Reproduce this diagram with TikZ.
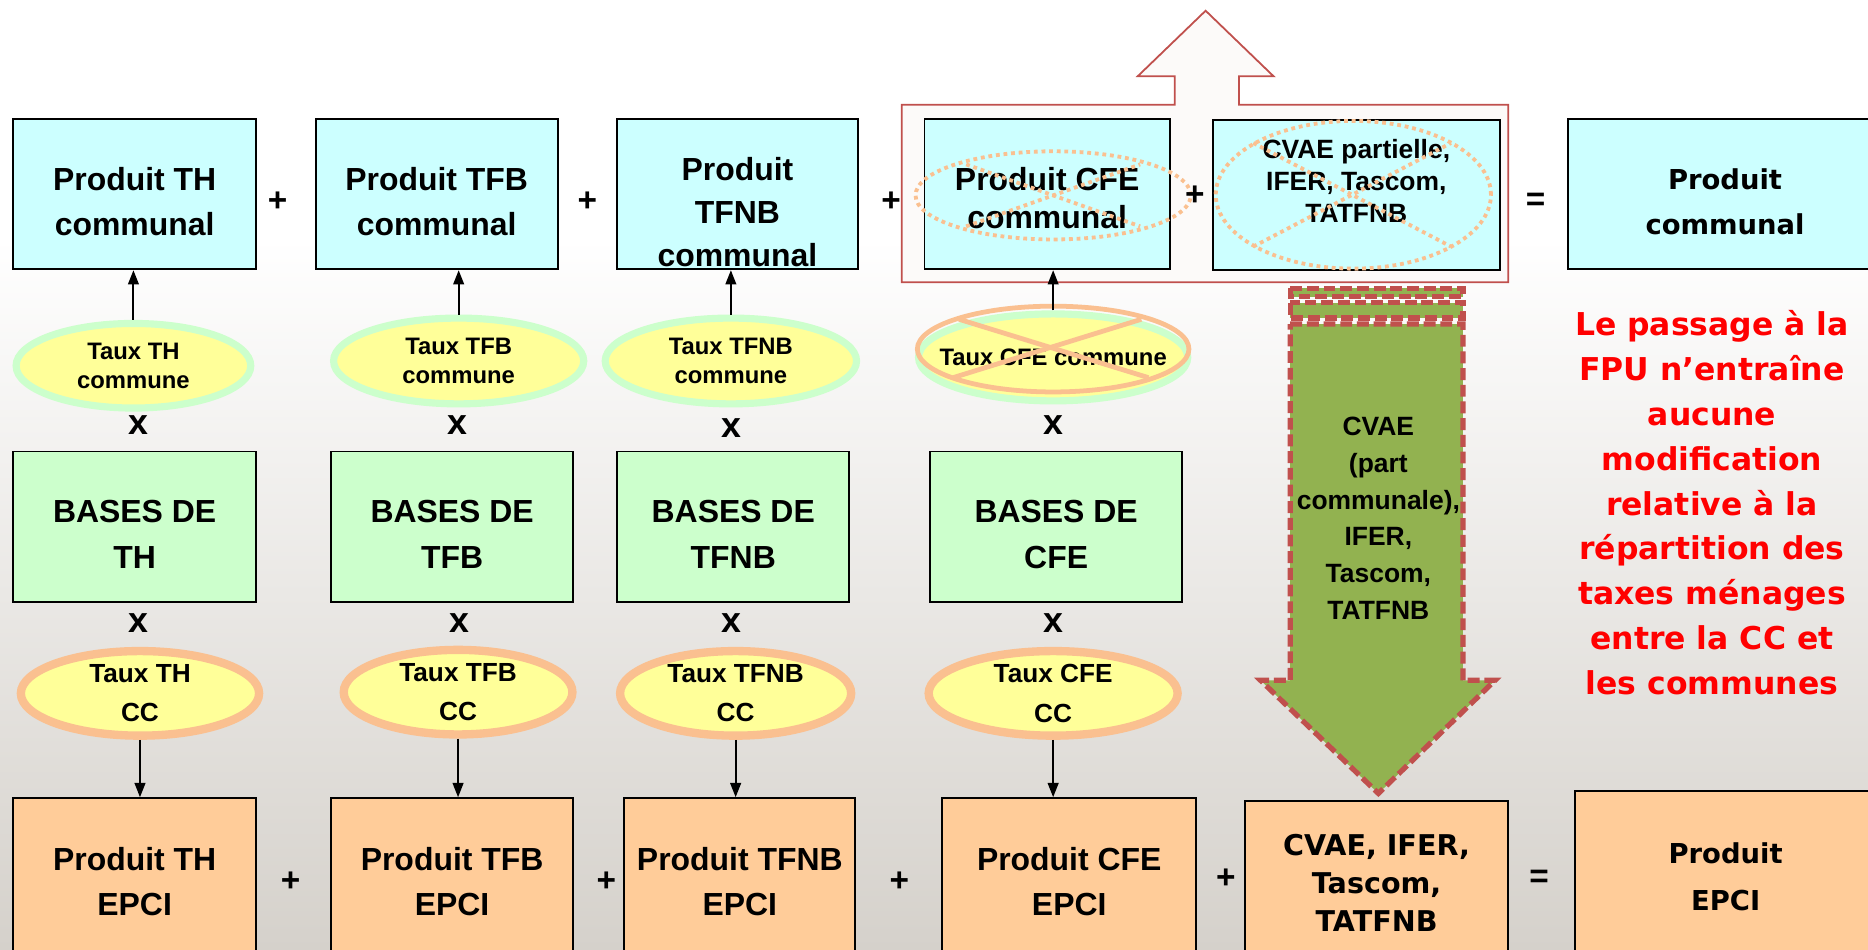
\documentclass[tikz,border=0pt]{standalone}
\usepackage{fontspec}
\setmainfont{Liberation Sans}
\newfontfamily\largefont{DejaVu Sans}
\usepackage{xcolor}
\usepackage{tikz}
\usetikzlibrary{positioning,calc,shapes.geometric,arrows.meta}

\definecolor{cyanbox}{RGB}{204,255,255}
\definecolor{vertbox}{RGB}{204,255,204}
\definecolor{orangebox}{RGB}{255,204,153}
\definecolor{jaune}{RGB}{255,255,153}
\definecolor{bordorange}{RGB}{250,192,144}
\definecolor{rougebord}{RGB}{192,80,77}
\definecolor{vertfleche}{RGB}{146,178,80}
\definecolor{fondgris}{RGB}{213,209,203}
\definecolor{fondclair}{RGB}{252,250,249}

\tikzset{
  boite/.style={draw=black, line width=0.8pt, minimum height=63pt, inner sep=0pt, align=center,
    font=\fontsize{13.4}{19}\selectfont\bfseries},
  bas/.style={text height=35pt, text depth=0pt},
  tauxcom/.style={ellipse, fill=jaune, draw=vertbox, line width=3pt, inner sep=0pt, align=center,
    font=\fontsize{10}{12}\selectfont\bfseries},
  tauxcc/.style={ellipse, fill=jaune, draw=bordorange, line width=3.5pt, inner sep=0pt, inner ysep=-1.5pt,
    align=center, font=\fontsize{11}{16.5}\selectfont\bfseries},
  signe/.style={font=\fontsize{14}{14}\selectfont\bfseries, inner sep=0pt},
  fleche/.style={line width=0.8pt, -{Triangle[length=6pt,width=4.5pt]}},
  barre/.style={bordorange, line width=1.6pt, dash pattern=on 1.6pt off 1.6pt},
  flechevte/.style={fill=vertfleche, draw=rougebord, line width=2.2pt, dash pattern=on 5pt off 2pt},
}

\begin{document}
\begin{tikzpicture}[x=0.5pt, y=-0.5pt]
  \useasboundingbox (0,0) rectangle (1568,797);
  % fond degrade
  \fill[white] (0,0) rectangle (1568,797);
  \shade[top color=white, bottom color=fondgris] (0,200) rectangle (1568,797);

  % cadre rouge avec la fleche vers le haut
  \draw[rougebord, line width=0.75pt, fill=fondclair] (757,88) -- (986,88) -- (986,64) -- (955,64)
    -- (1012,9) -- (1069,64) -- (1040,64) -- (1040,88) -- (1266,88) -- (1266,237) -- (757,237) -- cycle;

  % ligne des produits communaux
  \node[boite, bas, fill=cyanbox, minimum width=102pt] (prodTH) at (113,163) {Produit TH\\communal};
  \node[boite, bas, fill=cyanbox, minimum width=101.5pt] (prodTFB) at (366.5,163) {Produit TFB\\communal};
  \node[boite, fill=cyanbox, minimum width=101pt,
    label={[align=center, yshift=-7.5pt, font=\fontsize{13.4}{18}\selectfont\bfseries]center:{Produit\\TFNB\\communal}}]
    (prodTFNB) at (619,163) {};
  \node[boite, fill=cyanbox, minimum width=103pt, font=\fontsize{13.4}{16}\selectfont\bfseries,
    text height=28.8pt, text depth=0pt] (prodCFE) at (879,163) {Produit CFE\\communal};
  \node[boite, fill=cyanbox, minimum width=120.5pt,
    label={[align=center, yshift=5.75pt, font=\fontsize{11.1}{13.3}\selectfont\bfseries]center:{CVAE partielle,\\IFER, Tascom,\\TATFNB}}]
    (prodCVAE) at (1138.5,163.5) {};
  \node[boite, fill=cyanbox, minimum width=132pt, font=\largefont\fontsize{11.5}{19}\selectfont\bfseries,
    text height=34.2pt, text depth=0pt] (prodCom) at (1448,163) {Produit\\communal};

  % barres en pointilles
  \draw[barre] (884,164) ellipse [x radius=57.75pt, y radius=18.5pt];
  \draw[barre] (811,138) -- (957,190);
  \draw[barre] (811,190) -- (957,138);
  \draw[barre] (1136,163.5) ellipse [x radius=57.75pt, y radius=31pt];
  \draw[barre] (1052,120) -- (1218,207);
  \draw[barre] (1052,207) -- (1218,120);

  % taux communes
  \node[tauxcom, minimum width=98.5pt, minimum height=35.5pt] (tauxTHcom) at (112,307) {Taux TH\\commune};
  \node[tauxcom, minimum width=105pt, minimum height=36pt] (tauxTFBcom) at (385,303) {Taux TFB\\commune};
  \node[tauxcom, minimum width=105.5pt, minimum height=36pt] (tauxTFNBcom) at (613.5,303) {Taux TFNB\\commune};
  \node[tauxcom, minimum width=113pt, minimum height=36.5pt,
    label={[font=\fontsize{10}{12}\selectfont\bfseries]center:Taux CFE commune}] (tauxCFEcom) at (884,300) {};
  \draw[bordorange, line width=2pt] (884,293) ellipse [x radius=57pt, y radius=18pt];
  \draw[bordorange, line width=2pt] (805,268) -- (964,317);
  \draw[bordorange, line width=2pt] (800,317) -- (958,268);

  \draw[fleche] (tauxTHcom.north) -- (tauxTHcom.north |- prodTH.south);
  \draw[fleche] (tauxTFBcom.north) -- (tauxTFBcom.north |- prodTFB.south);
  \draw[fleche] (tauxTFNBcom.north) -- (tauxTFNBcom.north |- prodTFNB.south);
  \draw[fleche] (tauxCFEcom.north) -- (tauxCFEcom.north |- prodCFE.south);

  % bases
  \node[boite, bas, fill=vertbox, minimum width=102pt] (basesTH) at (113,442) {BASES DE\\TH};
  \node[boite, bas, fill=vertbox, minimum width=101.5pt] (basesTFB) at (379.5,442) {BASES DE\\TFB};
  \node[boite, bas, fill=vertbox, minimum width=97.5pt] (basesTFNB) at (615.5,442) {BASES DE\\TFNB};
  \node[boite, bas, fill=vertbox, minimum width=105.5pt] (basesCFE) at (886.5,442) {BASES DE\\CFE};

  \foreach \x/\y [count=\i] in {116/357, 384/357, 614/359, 884/357, 116/523, 386/523, 614/523, 884/523}
    \node[signe, font=\fontsize{15}{15}\selectfont\bfseries] (fois\i) at (\x,\y) {x};

  % taux CC
  \node[tauxcc, minimum width=100pt, minimum height=35.5pt] (tauxTHcc) at (117.5,582) {Taux TH\\CC};
  \node[tauxcc, minimum width=96pt, minimum height=35.5pt] (tauxTFBcc) at (384.5,581) {Taux TFB\\CC};
  \node[tauxcc, minimum width=97pt, minimum height=35.5pt] (tauxTFNBcc) at (617.5,582) {Taux TFNB\\CC};
  \node[tauxcc, minimum width=104.5pt, minimum height=35.5pt] (tauxCFEcc) at (884,582) {Taux CFE\\CC};

  % produits EPCI
  \node[boite, fill=orangebox, minimum width=102pt, minimum height=70pt] (prodTHepci) at (113,740) {Produit TH\\EPCI};
  \node[boite, fill=orangebox, minimum width=101.5pt, minimum height=70pt] (prodTFBepci) at (379.5,740) {Produit TFB\\EPCI};
  \node[boite, fill=orangebox, minimum width=97pt, minimum height=70pt] (prodTFNBepci) at (621,740) {Produit TFNB\\EPCI};
  \node[boite, fill=orangebox, minimum width=106.5pt, minimum height=70pt] (prodCFEepci) at (897.5,740) {Produit CFE\\EPCI};
  \node[boite, fill=orangebox, minimum width=110.5pt, minimum height=69pt, font=\largefont\fontsize{12}{16}\selectfont\bfseries]
    (prodCVAEepci) at (1155.5,741) {CVAE, IFER,\\Tascom,\\TATFNB};
  \node[boite, fill=orangebox, minimum width=126.5pt, minimum height=72pt, font=\largefont\fontsize{11.5}{19.5}\selectfont\bfseries]
    (prodEPCI) at (1448.5,736) {Produit\\EPCI};

  \draw[fleche] (tauxTHcc.south) -- (tauxTHcc.south |- prodTHepci.north);
  \draw[fleche] (tauxTFBcc.south) -- (tauxTFBcc.south |- prodTFBepci.north);
  \draw[fleche] (tauxTFNBcc.south) -- (tauxTFNBcc.south |- prodTFNBepci.north);
  \draw[fleche] (tauxCFEcc.south) -- (tauxCFEcc.south |- prodCFEepci.north);

  % signes
  \foreach \x/\y [count=\i] in {233/169, 493/169, 748/169, 1003/164, 244/740, 509/740, 755/740, 1029/738}
    \node[signe] (plus\i) at (\x,\y) {+};
  \node[signe] (egal1) at (1289,169) {=};
  \node[signe] (egal2) at (1292,738) {=};

  % grande fleche verte
  \draw[flechevte] (1083,242) rectangle (1228,249);
  \draw[flechevte] (1083,254) rectangle (1228,267);
  \draw[flechevte] (1083,272) -- (1228,272) -- (1228,571) -- (1255,571) -- (1157,666)
    -- (1058,571) -- (1083,571) -- cycle;
  \node[font=\fontsize{11.1}{15.5}\selectfont\bfseries, align=center] (cvaeFleche) at (1157,435)
    {CVAE\\(part\\communale),\\IFER,\\Tascom,\\TATFNB};

  % commentaire en rouge
  \node[font=\largefont\fontsize{13.2}{18.8}\selectfont\bfseries, text=red, align=center] (avis) at (1437,422)
    {Le passage à la\\FPU n’entraîne\\aucune\\modification\\relative à la\\répartition des\\taxes ménages\\entre la CC et\\les communes};
\end{tikzpicture}
\end{document}
